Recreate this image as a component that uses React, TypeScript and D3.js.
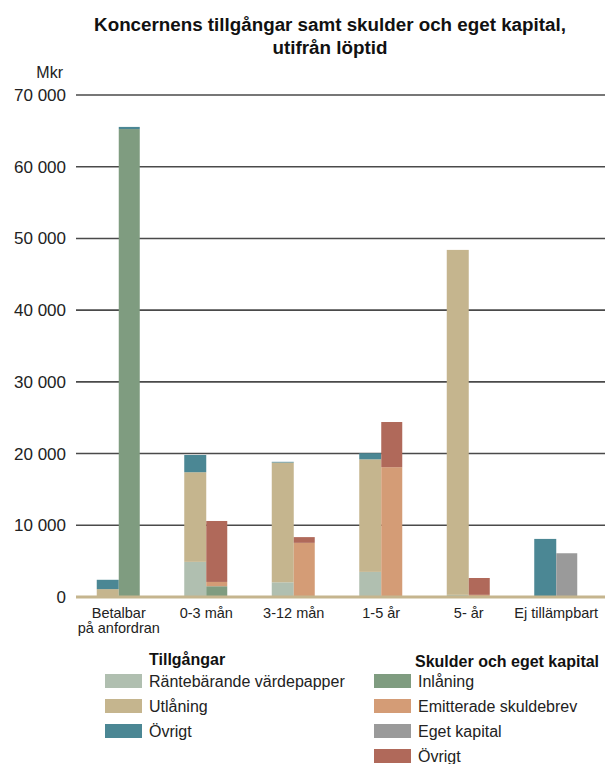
import * as d3 from "d3";
import React from "react";

// categories and tick values
const categories = ["Betalbar|på anfordran", "0-3 mån", "3-12 mån", "1-5 år", "5- år", "Ej tillämpbart"];
const yTicks = [0, 10000, 20000, 30000, 40000, 50000, 60000, 70000];

// Tillgångar (left bar in each group), Mkr
const rantebarande = [0, 4900, 2050, 3500, 300, 0];
const utlaning = [1100, 12500, 16700, 15700, 48100, 0];
const ovrigtTillg = [1300, 2400, 100, 850, 0, 8100];

// Skulder och eget kapital (right bar), Mkr
const inlaning = [65250, 1500, 100, 100, 0, 0];
const emitterade = [0, 600, 7450, 18000, 300, 0];
const egetKapital = [0, 0, 0, 0, 0, 6100];
const ovrigtSkuld = [0, 8500, 800, 6300, 2350, 0];
const ovrigtTopp = [300, 0, 0, 0, 0, 0]; // thin teal strip on top of the first liability bar

const colors = {
  rantebarande: "#b0bfb0",
  utlaning: "#c5b58e",
  ovrigtTillg: "#4b8794",
  inlaning: "#7f9c80",
  emitterade: "#d49c76",
  egetKapital: "#9a9a9a",
  ovrigtSkuld: "#b0695a",
};

const font = "'Liberation Sans', Arial, sans-serif";
const narrow = "'Liberation Sans Narrow', 'Liberation Sans', Arial, sans-serif";

export default function App() {
  const width = 605;
  const height = 764;

  const x = d3.scaleBand().domain(categories).range([75, 600]).padding(0);
  const y = d3.scaleLinear().domain([0, 70000]).range([597, 95]);
  const barW = 22;

  const assetStack = [
    { vals: rantebarande, color: colors.rantebarande },
    { vals: utlaning, color: colors.utlaning },
    { vals: ovrigtTillg, color: colors.ovrigtTillg },
  ];
  const liabStack = [
    { vals: inlaning, color: colors.inlaning },
    { vals: emitterade, color: colors.emitterade },
    { vals: egetKapital, color: colors.egetKapital },
    { vals: ovrigtSkuld, color: colors.ovrigtSkuld },
    { vals: ovrigtTopp, color: colors.ovrigtTillg },
  ];

  function stackRects(stack, i, x0, w, prefix) {
    let acc = 0;
    return stack.map((s, k) => {
      const v = s.vals[i];
      const r = (
        <rect
          key={prefix + k}
          x={x0}
          width={w}
          y={y(acc + v)}
          height={y(acc) - y(acc + v)}
          fill={s.color}
        />
      );
      acc += v;
      return v > 0 ? r : null;
    });
  }

  const legendLeft = [
    ["Räntebärande värdepapper", colors.rantebarande],
    ["Utlåning", colors.utlaning],
    ["Övrigt", colors.ovrigtTillg],
  ];
  const legendRight = [
    ["Inlåning", colors.inlaning],
    ["Emitterade skuldebrev", colors.emitterade],
    ["Eget kapital", colors.egetKapital],
    ["Övrigt", colors.ovrigtSkuld],
  ];
  const legendY = [681, 706, 731, 756];

  return (
    <svg width={width} height={height} style={{ position: "absolute", left: 0, top: 0, background: "#fff" }}>
      {/* title */}
      <text x={330} y={31} textAnchor="middle" fontFamily={narrow} fontWeight="bold" fontSize={18.8} fill="#111">
        Koncernens tillgångar samt skulder och eget kapital,
      </text>
      <text x={330} y={54} textAnchor="middle" fontFamily={narrow} fontWeight="bold" fontSize={18.8} fill="#111">
        utifrån löptid
      </text>
      <text x={63} y={78} textAnchor="end" fontFamily={font} fontSize={16} fill="#222">
        Mkr
      </text>

      {/* gridlines + y labels */}
      {yTicks.map((t) => (
        <g key={t}>
          {t > 0 && <line x1={76} x2={605} y1={y(t)} y2={y(t)} stroke="#4a4a4a" strokeWidth={1.6} />}
          <text x={66} y={y(t) + 6} textAnchor="end" fontFamily={font} fontSize={17} fill="#222">
            {d3.format(",")(t).replace(/,/g, " ")}
          </text>
        </g>
      ))}

      {/* bars */}
      {categories.map((c, i) => {
        const cx = x(c) + x.bandwidth() / 2;
        return (
          <g key={c}>
            {stackRects(assetStack, i, cx - barW, barW, "a")}
            {stackRects(liabStack, i, cx, barW - 1, "l")}
          </g>
        );
      })}

      {/* baseline */}
      <line x1={76} x2={605} y1={y(0)} y2={y(0)} stroke={colors.utlaning} strokeWidth={3} />

      {/* x labels */}
      {categories.map((c) => {
        const cx = x(c) + x.bandwidth() / 2;
        return c.split("|").map((line, j) => (
          <text key={c + j} x={cx} y={618 + j * 15} textAnchor="middle" fontFamily={font} fontSize={14.5} fill="#222">
            {line}
          </text>
        ));
      })}

      {/* legend */}
      <text x={149} y={665} fontFamily={narrow} fontWeight="bold" fontSize={16} fill="#111">
        Tillgångar
      </text>
      {legendLeft.map(([label, col], i) => (
        <g key={"ll" + i}>
          <rect x={105} y={legendY[i] - 7} width={37} height={14} fill={col} />
          <text x={149} y={legendY[i] + 6} fontFamily={font} fontSize={16} fill="#222">
            {label}
          </text>
        </g>
      ))}
      <text x={415} y={667} fontFamily={narrow} fontWeight="bold" fontSize={16} fill="#111">
        Skulder och eget kapital
      </text>
      {legendRight.map(([label, col], i) => (
        <g key={"lr" + i}>
          <rect x={374} y={legendY[i] - 7} width={37} height={14} fill={col} />
          <text x={418} y={legendY[i] + 6} fontFamily={font} fontSize={16} fill="#222">
            {label}
          </text>
        </g>
      ))}
    </svg>
  );
}
